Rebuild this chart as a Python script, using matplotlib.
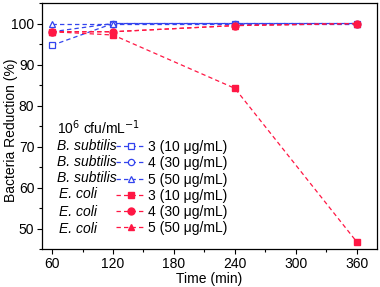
import matplotlib.pyplot as plt
from matplotlib.ticker import MultipleLocator

plt.rcParams['font.family'] = ['Liberation Sans', 'DejaVu Sans']

# data
time = [60, 120, 240, 360]
bs_3 = [94.7, 100, 100, 100]
bs_4 = [98.0, 100, 100, 100]
bs_5 = [100, 100, 100, 100]
ec_3 = [98.0, 97.2, 84.2, 46.8]
ec_4 = [98.0, 98.0, 99.5, 100]
ec_5 = [98.0, 98.0, 99.5, 100]

species = ["B. subtilis", "B. subtilis", "B. subtilis", "E. coli", "E. coli", "E. coli"]
labels = ["3 (10 μg/mL)", "4 (30 μg/mL)", "5 (50 μg/mL)",
          "3 (10 μg/mL)", "4 (30 μg/mL)", "5 (50 μg/mL)"]

blue = "#3344ee"
red = "#ff1744"

fig = plt.figure(figsize=(3.8, 2.87), dpi=100)
ax = fig.add_axes([0.1105, 0.132, 0.8815, 0.8575])

dash = (0, (3.5, 2.5))
handles = []
for ys, m in zip([bs_3, bs_4, bs_5], ["s", "o", "^"]):
    h, = ax.plot(time, ys, color=blue, linestyle=dash, lw=0.9, marker=m, ms=4.5,
                 mfc="white", mec=blue, mew=0.9)
    handles.append(h)
for ys, m in zip([ec_3, ec_4, ec_5], ["s", "o", "^"]):
    h, = ax.plot(time, ys, color=red, linestyle=dash, lw=0.9, marker=m, ms=5,
                 mfc=red, mec=red)
    handles.append(h)

ax.set_xlim(50, 380)
ax.set_ylim(45, 105)
ax.set_xticks([60, 120, 180, 240, 300, 360])
ax.xaxis.set_minor_locator(MultipleLocator(30))
ax.set_yticks([50, 60, 70, 80, 90, 100])
ax.yaxis.set_minor_locator(MultipleLocator(5))
ax.tick_params(which="major", direction="out", length=3.5, width=0.8, labelsize=10, pad=2)
ax.tick_params(which="minor", direction="out", length=2, width=0.8)
for s in ax.spines.values():
    s.set_linewidth(0.9)

ax.set_xlabel("Time (min)", fontsize=10, labelpad=1)
ax.set_ylabel("Bacteria Reduction (%)", fontsize=10)
ax.yaxis.set_label_coords(-0.072, 0.485)

leg = ax.legend(handles, labels, loc="upper left", bbox_to_anchor=(0.221, 0.443),
                frameon=False, fontsize=10, handlelength=2.15, handletextpad=0.15,
                labelspacing=0.16, borderpad=0, borderaxespad=0)

ax.text(0.045, 0.495, r"10$^6$ cfu/mL$^{-1}$", transform=ax.transAxes,
        fontsize=10, va="center", ha="left")
row_y = [0.419, 0.352, 0.287, 0.222, 0.152, 0.083]
for sp, y in zip(species, row_y):
    x0 = 0.045 if sp.startswith("B") else 0.051
    ax.text(x0, y, sp, transform=ax.transAxes, fontsize=10, style="italic",
            va="center", ha="left")

fig.savefig("out.png", dpi=100)
